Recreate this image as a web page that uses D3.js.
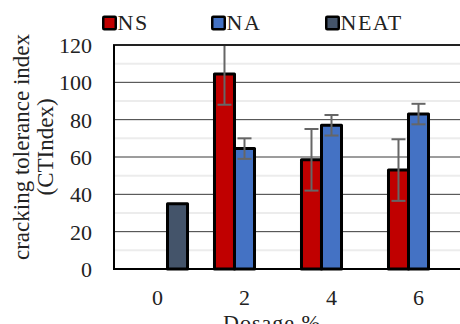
<!DOCTYPE html>
<html>
<head>
<meta charset="utf-8">
<script src="https://cdn.jsdelivr.net/npm/d3@7"></script>
<style>
  html, body { margin: 0; padding: 0; background: #fff; }
  svg { display: block; }
</style>
</head>
<body>
<svg id="chart" width="460" height="324" font-family="'Liberation Serif', 'Times New Roman', serif"></svg>
<script>
// Dosage categories and series
const categories = ["0", "2", "4", "6"];
const seriesNames = ["NS", "NA", "NEAT"];
const nsValues = [null, 104.5, 58.5, 53];
const nsErrors = [null, 16.5, 16.5, 16.5];
const naValues = [null, 64.5, 77, 83];
const naErrors = [null, 5.5, 5.5, 5.5];
const neatValues = [35, null, null, null];
const neatErrors = [null, null, null, null];
const yTicks = [0, 20, 40, 60, 80, 100, 120];
const seriesColors = ["#C00000", "#4472C4", "#44546A"];

const svg = d3.select("#chart");
const plot = { left: 114, right: 462, top: 45, bottom: 269 };
const textColor = "#222";

const x = d3.scaleBand().domain(categories)
  .range([plot.left, plot.right]).paddingInner(0.31).paddingOuter(0.155);
const xs = d3.scaleBand().domain(seriesNames).range([0, x.bandwidth()]);
const y = d3.scaleLinear().domain([0, 120]).range([plot.bottom, plot.top]);

// minor gridlines between the labelled ones
svg.append("g").selectAll("line")
  .data(d3.range(10, 120, 20))
  .join("line")
  .attr("x1", plot.left).attr("x2", plot.right)
  .attr("y1", d => y(d)).attr("y2", d => y(d))
  .attr("stroke", "#ececec").attr("stroke-width", 2);

// major gridlines
svg.append("g").selectAll("line")
  .data(yTicks.filter(d => d > 0 && d < 120))
  .join("line")
  .attr("x1", plot.left).attr("x2", plot.right)
  .attr("y1", d => y(d)).attr("y2", d => y(d))
  .attr("stroke", "#3a3a3a").attr("stroke-width", 1);

// y tick labels
svg.append("g").selectAll("text")
  .data(yTicks)
  .join("text")
  .attr("x", 92).attr("y", d => y(d) + 8)
  .attr("text-anchor", "end")
  .attr("font-size", 22).attr("fill", textColor)
  .text(d => d);

// one record per drawn bar
const rows = [];
categories.forEach((c, i) => {
  [nsValues, naValues, neatValues].forEach((vals, s) => {
    const errs = [nsErrors, naErrors, neatErrors][s];
    if (vals[i] != null) rows.push({ cat: c, s: seriesNames[s], v: vals[i], e: errs[i], color: seriesColors[s] });
  });
});

svg.append("defs").append("clipPath").attr("id", "plotclip")
  .append("rect").attr("x", plot.left).attr("y", plot.top)
  .attr("width", plot.right - plot.left).attr("height", plot.bottom - plot.top);

svg.append("g").selectAll("rect")
  .data(rows)
  .join("rect")
  .attr("x", d => x(d.cat) + xs(d.s))
  .attr("width", xs.bandwidth())
  .attr("y", d => y(d.v))
  .attr("height", d => y(0) - y(d.v))
  .attr("fill", d => d.color)
  .attr("stroke", "#000").attr("stroke-width", 3)
  .attr("stroke-linejoin", "round");

// error bars
const eb = svg.append("g").attr("clip-path", "url(#plotclip)")
  .selectAll("g").data(rows.filter(d => d.e != null)).join("g")
  .attr("stroke", "#666").attr("stroke-width", 2);
eb.append("line")
  .attr("x1", d => x(d.cat) + xs(d.s) + xs.bandwidth() / 2)
  .attr("x2", d => x(d.cat) + xs(d.s) + xs.bandwidth() / 2)
  .attr("y1", d => y(d.v + d.e)).attr("y2", d => y(d.v - d.e));
[1, -1].forEach(sign => {
  eb.append("line")
    .attr("x1", d => x(d.cat) + xs(d.s) + xs.bandwidth() / 2 - 7)
    .attr("x2", d => x(d.cat) + xs(d.s) + xs.bandwidth() / 2 + 7)
    .attr("y1", d => y(d.v + sign * d.e)).attr("y2", d => y(d.v + sign * d.e));
});

// plot frame: top, left and baseline
svg.append("line").attr("x1", plot.left - 1).attr("x2", plot.right)
  .attr("y1", plot.top).attr("y2", plot.top).attr("stroke", "#222").attr("stroke-width", 2);
svg.append("line").attr("x1", plot.left).attr("x2", plot.left)
  .attr("y1", plot.top).attr("y2", plot.bottom + 1).attr("stroke", "#000").attr("stroke-width", 2);
svg.append("line").attr("x1", plot.left).attr("x2", plot.right)
  .attr("y1", plot.bottom).attr("y2", plot.bottom).attr("stroke", "#000").attr("stroke-width", 2);

// x tick labels at the group centre
svg.append("g").selectAll("text")
  .data(categories)
  .join("text")
  .attr("x", d => x(d) + x.bandwidth() / 2)
  .attr("y", 305)
  .attr("text-anchor", "middle")
  .attr("font-size", 22).attr("fill", textColor)
  .text(d => d);

// axis titles
svg.append("text")
  .attr("x", 272).attr("y", 330)
  .attr("text-anchor", "middle").attr("font-size", 22).attr("fill", textColor)
  .attr("letter-spacing", 1)
  .text("Dosage %");

const yt = svg.append("text")
  .attr("transform", "translate(29,147) rotate(-90)")
  .attr("text-anchor", "middle").attr("font-size", 23).attr("fill", textColor);
yt.append("tspan").attr("x", 0).attr("y", 0).text("cracking tolerance index");
yt.append("tspan").attr("x", 0).attr("y", 24).text("(CTIndex)");

// legend
const legendX = [102, 211, 325];
const lg = svg.append("g").selectAll("g")
  .data(seriesNames).join("g")
  .attr("transform", (d, i) => `translate(${legendX[i]},15.5)`);
lg.append("rect")
  .attr("x", 1.25).attr("y", 1.25).attr("width", 12.5).attr("height", 12.5)
  .attr("fill", (d, i) => seriesColors[i])
  .attr("stroke", "#000").attr("stroke-width", 2.5).attr("rx", 1);
lg.append("text")
  .attr("x", 15.5).attr("y", 14.5).attr("font-size", 22).attr("fill", textColor)
  .attr("letter-spacing", 1.5)
  .text(d => d);
</script>
</body>
</html>
